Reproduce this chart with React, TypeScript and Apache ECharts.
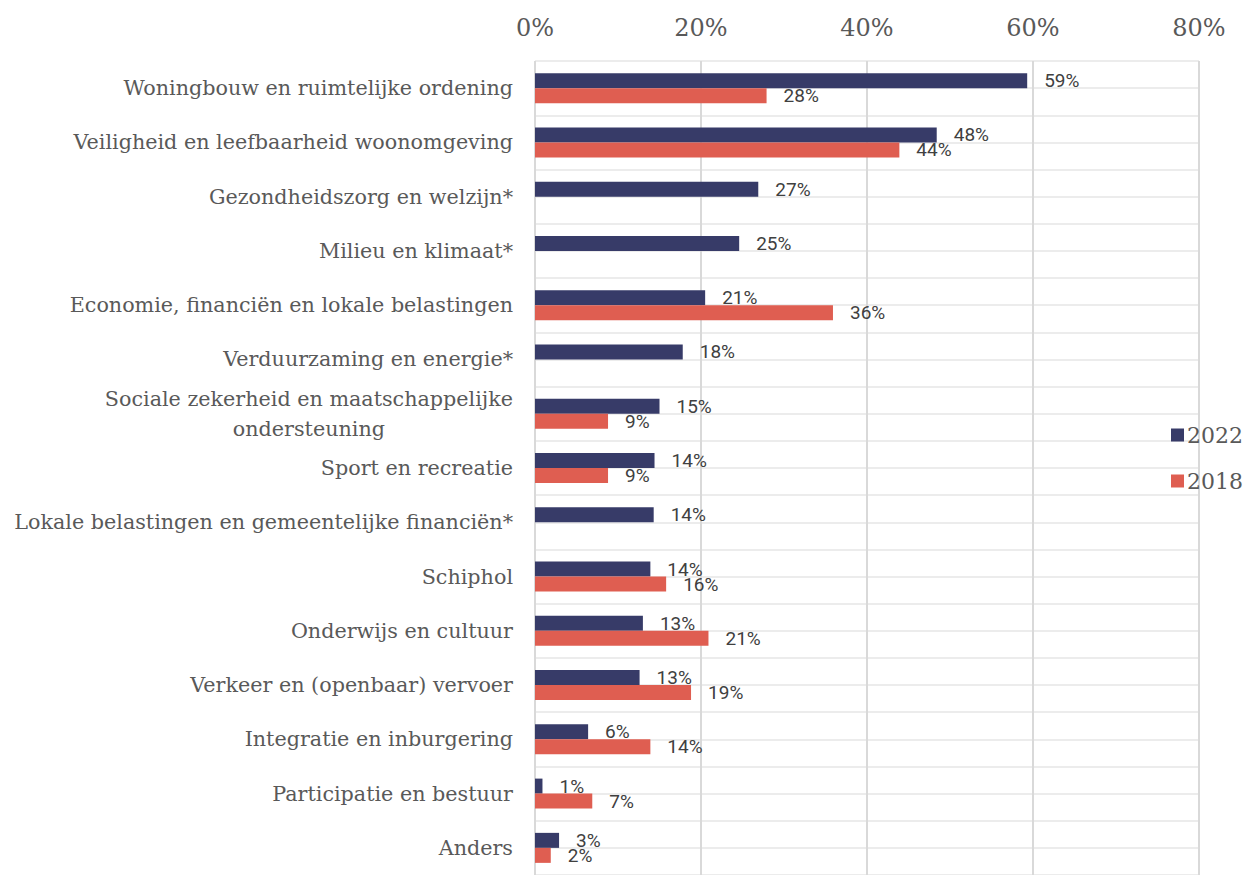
import React, { useEffect, useRef } from "react";
import * as echarts from "echarts";

const categories = [
  "Woningbouw en ruimtelijke ordening",
  "Veiligheid en leefbaarheid woonomgeving",
  "Gezondheidszorg en welzijn*",
  "Milieu en klimaat*",
  "Economie, financiën en lokale belastingen",
  "Verduurzaming en energie*",
  "Sociale zekerheid en maatschappelijke\nondersteuning",
  "Sport en recreatie",
  "Lokale belastingen en gemeentelijke financiën*",
  "Schiphol",
  "Onderwijs en cultuur",
  "Verkeer en (openbaar) vervoer",
  "Integratie en inburgering",
  "Participatie en bestuur",
  "Anders",
];

const values2022 = [59.3, 48.4, 26.9, 24.6, 20.5, 17.8, 15.0, 14.4, 14.3, 13.9, 13.0, 12.6, 6.4, 0.9, 2.9];
const values2018 = [27.9, 43.9, null, null, 35.9, null, 8.8, 8.8, null, 15.8, 20.9, 18.8, 13.9, 6.9, 1.9];

const xTicks = [0, 20, 40, 60, 80];

const NAVY = "#373b68";
const RED = "#df5e51";
const SERIF = "DejaVu Serif, serif";

export default function App() {
  const ref = useRef<HTMLDivElement>(null);
  useEffect(() => {
    if (!ref.current) return;
    const chart = echarts.init(ref.current, undefined, { renderer: "svg" });
    const halfRows = categories.flatMap((c, i) => [c + "_a" + i, c + "_b" + i]);
    const labelStyle = {
      show: true,
      position: "right" as const,
      distance: 17,
      fontFamily: "Roboto",
      fontSize: 19,
      color: "#404040",
      formatter: (p: any) => Math.round(p.value) + "%",
    };
    chart.setOption({
      animation: false,
      backgroundColor: "#ffffff",
      grid: { left: 535, right: 46, top: 61, bottom: -6, containLabel: false },
      legend: {
        orient: "vertical",
        left: 1166,
        top: 419,
        itemWidth: 13,
        itemHeight: 13,
        itemGap: 24,
        icon: "rect",
        textStyle: { fontFamily: SERIF, fontSize: 22, color: "#595959", padding: [0, 0, 0, -2] },
        data: ["2022", "2018"],
      },
      xAxis: {
        type: "value",
        position: "top",
        min: xTicks[0],
        max: xTicks[xTicks.length - 1],
        interval: 20,
        axisLine: { show: false },
        axisTick: { show: false },
        axisLabel: {
          margin: 21,
          fontFamily: SERIF,
          fontSize: 24,
          color: "#595959",
          formatter: (v: number) => v + "%",
        },
        splitLine: { show: true, lineStyle: { color: "#d9d9d9", width: 2 } },
      },
      yAxis: [
        {
          type: "category",
          inverse: true,
          data: categories,
          axisLine: { show: false },
          axisTick: { show: false },
          splitLine: { show: false },
          axisLabel: {
            margin: 22,
            fontFamily: SERIF,
            fontSize: 20.7,
            color: "#595959",
            lineHeight: 30,
            formatter: (v: string) =>
              v.includes("\n")
                ? v
                    .split("\n")
                    .map((l) => "{c|" + l + "}")
                    .join("\n")
                : v,
            rich: {
              c: { align: "center", fontFamily: SERIF, fontSize: 20.7, color: "#595959", lineHeight: 30 },
            },
          },
        },
        {
          type: "category",
          inverse: true,
          position: "left",
          data: halfRows,
          axisLine: { show: false },
          axisTick: { show: false },
          axisLabel: { show: false },
          splitLine: { show: true, lineStyle: { color: "#ececec", width: 2 } },
        },
      ],
      series: [
        {
          name: "2022",
          type: "bar",
          yAxisIndex: 0,
          data: values2022,
          barWidth: 15,
          barGap: "0%",
          itemStyle: { color: NAVY },
          label: labelStyle,
          z: 3,
        },
        {
          name: "2018",
          type: "bar",
          yAxisIndex: 0,
          data: values2018,
          barWidth: 15,
          barGap: "0%",
          itemStyle: { color: RED },
          label: labelStyle,
          z: 3,
        },
      ],
    });
    return () => chart.dispose();
  }, []);
  return <div ref={ref} style={{ width: 1245, height: 875, position: "fixed", left: 0, top: 0 }} />;
}
